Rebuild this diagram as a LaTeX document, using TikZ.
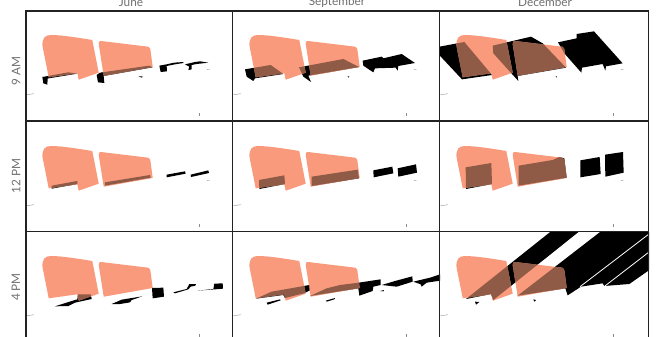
\documentclass[tikz,border=0pt]{standalone}
\usepackage{fontspec}
\setmainfont{Lato}
\definecolor{peachc}{HTML}{F99A7C}
\definecolor{brownc}{HTML}{8F5B46}
\definecolor{framec}{HTML}{222222}
\definecolor{textc}{HTML}{707070}
\tikzset{
  peachfill/.style={fill=peachc},
  shadefill/.style={fill=black},
  brownfill/.style={fill=brownc},
  framebox/.style={draw=framec,line width=1.8pt},
  tickline/.style={draw=black!45,line width=0.4pt},
  headlabel/.style={text=textc,font=\fontsize{11.8}{13}\selectfont,inner sep=0pt},
}
\def\pl{(42.5,46) .. controls (42,38) and (45,35) .. (51,35) .. controls (62,35) and (80,38) .. (92.3,40) -- (98.7,72.7) -- (78.7,79.7) -- (77.3,73.3) -- (48.7,77.3) -- cycle}
\def\pr{(98.7,44) .. controls (98.5,41.5) and (99.5,41) .. (101,41) -- (148.3,46.7) .. controls (150,47.5) and (150.3,49) .. (150.5,50.5) -- (152.7,67) -- (103.7,75.7) -- cycle}
% #1 dx, #2 dy, #3 ox, #4 oy, #5 shadow path in zoom units
\newcommand\panelcell[5]{%
  \begin{scope}[shift={(#1,#2)}]
    \begin{scope}
      \clip (26,11) rectangle (235,121);
      \begin{scope}[shift={(#3,#4)},scale=1/3]\fill[shadefill] #5;\end{scope}
      \fill[peachfill] \pl;
      \fill[peachfill] \pr;
      \begin{scope}\clip \pl;
        \begin{scope}[shift={(#3,#4)},scale=1/3]\fill[brownfill] #5;\end{scope}
      \end{scope}
      \begin{scope}\clip \pr;
        \begin{scope}[shift={(#3,#4)},scale=1/3]\fill[brownfill] #5;\end{scope}
      \end{scope}
      \draw[tickline] (26.7,94.7) -- (34,93.7);
      \draw[tickline] (199.3,113) -- (199.3,116);
    \end{scope}
  \end{scope}}
\begin{document}
\begin{tikzpicture}[x=1pt,y=-1pt]
\useasboundingbox (0,0) rectangle (661,337);
\fill[white] (0,0) rectangle (661,337);
\clip (0,0) rectangle (661,337);
% row 1
\panelcell{0}{0}{0}{0}{
 (127,231)--(205,217)--(232,221)--(146,235)--(143,236)--(142,254)--(130,250)--cycle
 (290,225)--(300,218)--(447,197)--(458,202)--(311,228)--(313,249)--(294,247)--cycle
 (415,229)--(428,229)--(426,233)--cycle
 (478,197)--(500,193)--(522,188)--(550,186)--(550,189)--(525,193)--(500,198)--(501,214)--(482,216)--cycle
 (555,193)--(585,186)--(600,184)--(625,188)--(590,192)--(575,195)--(575,208)--(565,210)--(568,200)--cycle}
\panelcell{207}{0}{23}{0}{
 (45,208)--(122,195)--(160,222)--(75,235)--(70,243)--(50,230)--cycle
 (207,202)--(340,177)--(387,201)--(235,227)--(243,246)--(220,230)--cycle
 (398,182)--(455,170)--(460,175)--(515,162)--(555,189)--(505,198)--(503,212)--(497,203)--(435,205)--(430,217)--(400,197)--cycle
 (352,229)--(358,229)--(356,233)--cycle}
\panelcell{414}{0}{22}{0}{
 (5,141)--(85,126)--(168,225)--(78,238)--(5,160)--cycle
 (170,137)--(285,110)--(320,130)--(390,203)--(245,228)--(247,243)--(228,222)--(172,160)--cycle
 (366,127)--(422,115)--(422,102)--(474,94)--(560,190)--(510,199)--(508,212)--(500,192)--(438,203)--(436,218)--(385,160)--cycle
 (359,229)--(363,229)--(361,233)--cycle}
% row 2
\panelcell{0}{111}{0}{9}{
 (155,197)--(232,183)--(232,192)--(155,206)--cycle
 (315,187)--(450,165)--(452,173)--(315,197)--cycle
 (500,164)--(555,154)--(557,161)--(500,172)--cycle
 (572,164)--(625,151)--(627,159)--(573,171)--cycle}
\panelcell{207}{111}{23}{9}{
 (87,180)--(163,166)--(165,192)--(88,207)--cycle
 (245,170)--(383,149)--(387,175)--(245,198)--cycle
 (430,151)--(487,140)--(490,160)--(431,172)--cycle
 (503,145)--(558,133)--(561,158)--(505,170)--cycle}
\panelcell{414}{111}{22}{9}{
 (89,142)--(166,129)--(168,192)--(90,207)--cycle
 (248,137)--(350,120)--(370,111)--(385,115)--(392,173)--(248,197)--cycle
 (433,121)--(491,111)--(494,162)--(433,172)--cycle
 (507,104)--(561,96)--(563,158)--(508,170)--cycle}
% row 3
\panelcell{0}{221}{0}{9}{
 (165,229)--(215,213)--(232,208)--(234,193)--(272,193)--(275,207)--(225,218)--(205,228)--cycle
 (335,222)--(365,209)--(427,199)--(395,210)--(390,217)--(360,222)--cycle
 (456,174)--(490,173)--(492,200)--(458,205)--cycle
 (520,187)--(560,177)--(568,162)--(588,162)--(586,167)--(572,170)--(565,178)--(525,190)--cycle
 (592,182)--(640,177)--(643,161)--(668,160)--(669,176)--(645,178)--cycle}
\panelcell{207}{221}{23}{9}{
 (78,206)--(125,185)--(165,178)--(238,165)--(240,181)--(222,190)--(165,204)--(160,195)--cycle
 (110,218)--(150,208)--(152,211)--(113,224)--cycle
 (240,198)--(290,175)--(330,165)--(386,158)--(452,148)--(452,165)--(430,170)--(428,183)--(388,197)--(385,175)--cycle
 (455,165)--(495,153)--(547,139)--(548,155)--(500,170)--cycle
 (550,155)--(600,143)--(630,133)--(630,152)--(590,158)--(575,170)--(572,163)--cycle
 (287,212)--(315,204)--(313,208)--(290,215)--cycle
 (450,183)--(462,180)--(460,184)--cycle}
\panelcell{414}{221}{22}{9}{
 (90,207)--(350,0)--(435,0)--(172,210)--(165,192)--cycle
 (245,197)--(500,0)--(650,0)--(650,113)--(580,162)--(505,168)--(500,160)--(435,170)--(395,196)--(388,175)--cycle
 (117,215)--(130,216)--(120,224)--cycle
 (292,208)--(300,210)--(295,215)--cycle}
% white slits in the last shadow
\coordinate (slitAa) at (580,286.7);
\coordinate (slitAb) at (649,234);
\coordinate (slitBa) at (604,286.7);
\coordinate (slitBb) at (649,252);
\draw[white,line width=0.8pt] (slitAa) -- (slitAb);
\draw[white,line width=0.8pt] (slitBa) -- (slitBb);
% faint marks
\foreach \dx in {0,207,414}\foreach \dy in {0,111}
  \draw[tickline,shift={(\dx,\dy)}] (207,69.4) -- (209.5,69.2);
% frames
\draw[framebox] (26,11) rectangle (232.5,121.3);
\draw[framebox] (232.5,11) rectangle (439.5,121.3);
\draw[framebox] (439.5,11) rectangle (648.5,121.3);
\draw[framebox] (26,121.3) rectangle (232.5,231.5);
\draw[framebox] (232.5,121.3) rectangle (439.5,231.5);
\draw[framebox] (439.5,121.3) rectangle (648.5,231.5);
\draw[framebox] (26,231.5) rectangle (232.5,345);
\draw[framebox] (232.5,231.5) rectangle (439.5,345);
\draw[framebox] (439.5,231.5) rectangle (648.5,345);
% labels
\node[headlabel] (june) at (131,2.5) {June};
\node[headlabel] (sept) at (337,2.5) {September};
\node[headlabel] (dec) at (545,2.5) {December};
\node[headlabel,rotate=90] (am) at (16,71) {9 AM};
\node[headlabel,rotate=90] (noon) at (16,176) {12 PM};
\node[headlabel,rotate=90] (pm) at (16,287) {4 PM};
\end{tikzpicture}
\end{document}
